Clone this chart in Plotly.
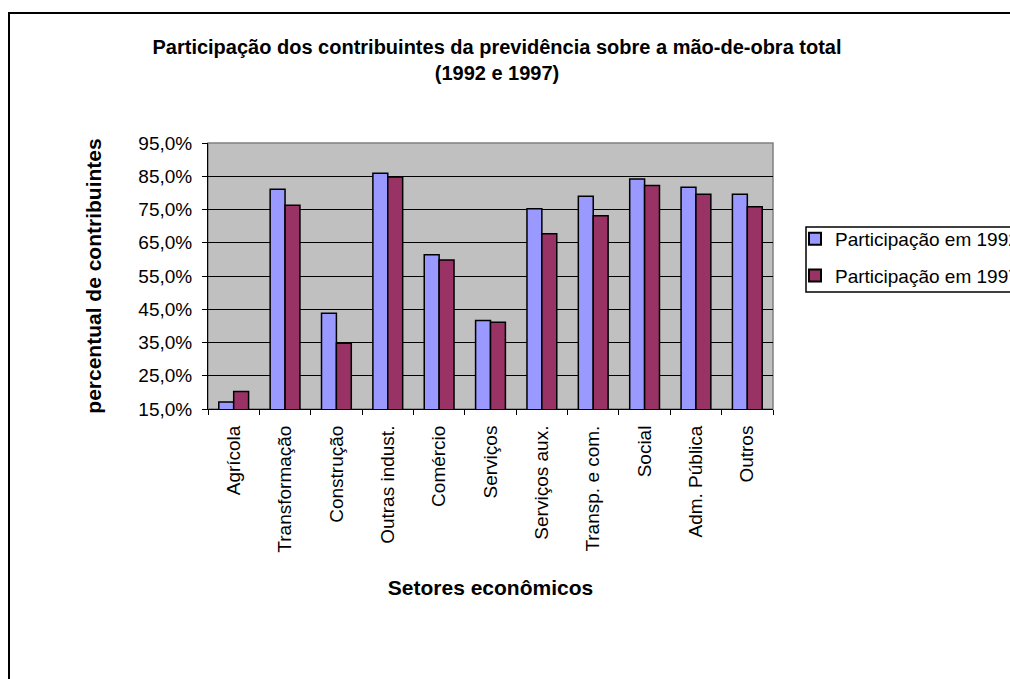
import plotly.graph_objects as go

categories = ["Agrícola", "Transformação", "Construção", "Outras indust.", "Comércio",
              "Serviços", "Serviços aux.", "Transp. e com.", "Social", "Adm. Pública", "Outros"]
part_1992 = [0.171, 0.811, 0.438, 0.859, 0.614, 0.416, 0.752, 0.790, 0.842, 0.817, 0.796]
part_1997 = [0.203, 0.763, 0.348, 0.848, 0.598, 0.411, 0.677, 0.731, 0.822, 0.796, 0.758]
y_ticks = [0.15, 0.25, 0.35, 0.45, 0.55, 0.65, 0.75, 0.85, 0.95]

W, H = 1010, 679
L, R, T, B = 208, 773, 143, 409

fig = go.Figure()
fig.add_trace(go.Bar(name="Participação em 1992", x=categories, y=part_1992, legendgroup="a",
                     marker=dict(color="#9999FF", line=dict(color="black", width=1.5))))
fig.add_trace(go.Bar(name="Participação em 1997", x=categories, y=part_1997, legendgroup="b",
                     marker=dict(color="#993366", line=dict(color="black", width=1.5))))

font_family = "Liberation Sans, Arial, sans-serif"


def px_x(p):
    return (p - L) / (R - L)


def px_y(p):
    return (B - p) / (B - T)


fig.update_layout(
    width=W, height=H,
    margin=dict(l=L, r=W - R, t=T, b=H - B, autoexpand=False),
    paper_bgcolor="white", plot_bgcolor="#C0C0C0",
    separators=", ",
    barmode="group", bargap=0.42, bargroupgap=0.0,
    font=dict(family=font_family, size=19, color="black"),
    title=dict(text="<b>Participação dos contribuintes da previdência sobre a mão-de-obra total<br>(1992 e 1997)</b>",
               x=497 / W, xanchor="center", y=1 - 54 / H, yanchor="middle",
               font=dict(family=font_family, size=20, color="black")),
    showlegend=True,
    legend=dict(x=px_x(795), y=px_y(220), xanchor="left", yanchor="top",
                bgcolor="rgba(0,0,0,0)", borderwidth=0,
                font=dict(family=font_family, size=19, color="black"),
                traceorder="grouped", tracegroupgap=9, itemsizing="constant"),
    xaxis=dict(showgrid=False, showline=True, linecolor="black", linewidth=1,
               ticks="outside", tickson="boundaries", ticklen=5, tickcolor="black",
               tickangle=-90, tickfont=dict(size=19), ticklabelstandoff=8,
               title=dict(text="<b>Setores econômicos</b>", font=dict(size=21), standoff=28)),
    yaxis=dict(range=[0.15, 0.95], tickvals=y_ticks, tickformat=".1%",
               showgrid=True, gridcolor="black", gridwidth=1,
               showline=True, linecolor="black", linewidth=1,
               ticks="outside", ticklen=5, tickcolor="black", tickfont=dict(size=19),
               ticklabelstandoff=6, zeroline=False,
               title=dict(text="<b>percentual de contribuintes</b>", font=dict(size=21), standoff=30)),
)

# gray plot-area border on top/right
fig.add_shape(type="rect", xref="paper", yref="paper", x0=0, y0=0, x1=1, y1=1,
              line=dict(color="#808080", width=1.5), layer="below")
# legend box
fig.add_shape(type="rect", xref="paper", yref="paper",
              x0=px_x(806), y0=px_y(292), x1=px_x(1040), y1=px_y(227),
              line=dict(color="black", width=1.5), fillcolor="white", layer="below")
# outer chart frame
fig.add_shape(type="rect", xref="paper", yref="paper",
              x0=px_x(9), y0=px_y(700), x1=px_x(1040), y1=px_y(13),
              line=dict(color="black", width=2))

fig.write_html("out.html", config={"displayModeBar": False},
               post_script="document.body.style.margin='0px';")
